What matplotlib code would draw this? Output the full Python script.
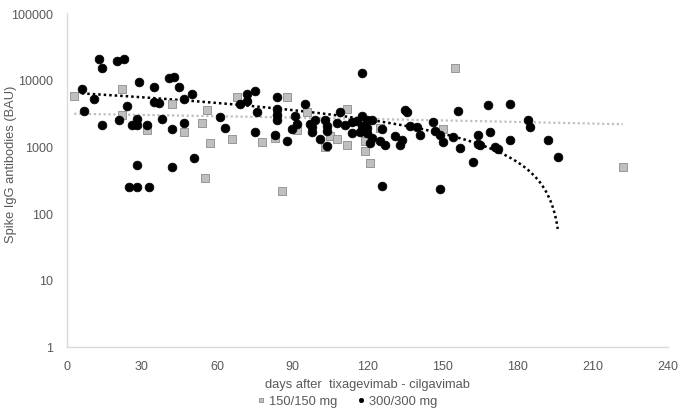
import numpy as np
from matplotlib import pyplot as plt

# 300/300 mg group (days, BAU)
days_300 = [6, 7, 11, 13, 14, 14, 20, 21, 23, 24, 25, 26, 28, 28, 28, 28, 29, 32, 33, 35,
            35, 37, 38, 41, 43, 42, 42, 45, 47, 47, 50, 51, 61, 63, 69, 72, 72, 75, 75, 76,
            83, 84, 84, 84, 84, 88, 90, 91, 92, 95, 97, 98, 98, 99, 101, 103, 104, 104, 104, 108,
            109, 111, 114, 114, 116, 117, 118, 118, 118, 120, 120, 120, 121, 122, 122, 125, 126, 126, 127, 131,
            133, 134, 135, 136, 137, 140, 141, 146, 147, 149, 150, 149, 154, 156, 157, 162, 164, 164, 165, 168,
            169, 171, 172, 177, 177, 184, 185, 192, 196]
igg_300 = [7200, 3360, 5120, 20800, 14800, 2130, 19200, 2530, 20800, 3990, 250, 2130, 2580, 2130, 525, 250, 9370, 2130, 250, 7900,
           4570, 4460, 2580, 10700, 10900, 1840, 485, 7900, 5120, 2210, 6150, 660, 2740, 1860, 4320, 6070, 4730, 6890, 1660, 3280,
           1480, 5610, 3640, 2930, 2470, 1200, 1840, 2830, 2180, 4370, 2180, 1940, 1660, 2450, 1300, 2450, 2010, 1700, 1020, 2210,
           3280, 2080, 2330, 1600, 2390, 1640, 2010, 12700, 2830, 1600, 2530, 1860, 1140, 1320, 2530, 1200, 1840, 253, 1050, 1430,
           1040, 1230, 3560, 3250, 2010, 1940, 1460, 2310, 1700, 1510, 1160, 231, 1380, 3440, 960, 590, 1460, 1100, 1050, 4230,
           1660, 980, 910, 4370, 1250, 2470, 1960, 1230, 700]

# 150/150 mg group
days_150 = [3, 22, 22, 32, 42, 47, 54, 55, 56, 57, 66, 68, 78, 83, 84, 86, 88, 92, 96, 103,
            105, 108, 112, 112, 119, 119, 121, 125, 150, 155, 222]
igg_150 = [5750, 7300, 2930, 1750, 4320, 1660, 2210, 337, 3560, 1110, 1280, 5610, 1160, 1320, 3250, 218, 5610, 1750, 3280, 980,
           1430, 1300, 3640, 1040, 1200, 860, 560, 1860, 1800, 15100, 485]

x_ticks = [0, 30, 60, 90, 120, 150, 180, 210, 240]
y_ticks = [1, 10, 100, 1000, 10000, 100000]

txt = '#595959'
plt.rcParams['font.family'] = ['Liberation Sans', 'DejaVu Sans']

fig = plt.figure(figsize=(6.85, 4.14), dpi=100)
ax = fig.add_axes([0.0974, 0.1606, 0.8778, 0.8054])

ax.scatter(days_150, igg_150, marker='s', s=30, color='#bfbfbf', edgecolors='#8c8c8c',
           linewidths=0.6, zorder=3, label='150/150 mg')
ax.scatter(days_300, igg_300, marker='o', s=40, color='black', edgecolors='black',
           linewidths=0.5, zorder=4, label='300/300 mg')

# linear trendlines (as Excel does), over each group's range
for d, v, col, lw in [(days_150, igg_150, '#bfbfbf', 1.6), (days_300, igg_300, 'black', 1.8)]:
    d = np.array(d, float)
    v = np.array(v, float)
    b, a = np.polyfit(d, v, 1)
    xs = np.linspace(d.min(), d.max(), 400)
    ys = a + b * xs
    keep = ys > 1
    ax.plot(xs[keep], ys[keep], linestyle=(0, (1, 1.2)), color=col, linewidth=lw, zorder=2)

ax.set_yscale('log')
ax.set_xlim(0, 240)
ax.set_ylim(1, 100000)
ax.set_xticks(x_ticks)
ax.set_yticks(y_ticks)
ax.set_yticklabels([str(t) for t in y_ticks])
ax.minorticks_off()
ax.tick_params(axis='both', length=0, labelsize=9, colors=txt)
ax.tick_params(axis='x', pad=10)
ax.tick_params(axis='y', pad=10)

for s in ['top', 'right']:
    ax.spines[s].set_visible(False)
for s in ['left', 'bottom']:
    ax.spines[s].set_color('#d9d9d9')
    ax.spines[s].set_linewidth(1)

ax.set_xlabel('days after  tixagevimab - cilgavimab', fontsize=9.3, color=txt, labelpad=4)
ax.set_ylabel('Spike IgG antibodies (BAU)', fontsize=9.3, color=txt)
ax.yaxis.set_label_coords(-0.082, 0.549)

leg = fig.legend(handles=ax.collections[:2], labels=['150/150 mg', '300/300 mg'],
                 loc='center', bbox_to_anchor=(0.505, 0.03), ncol=2, frameon=False,
                 fontsize=9.3, handletextpad=0.1, columnspacing=1.4, markerscale=0.5,
                 handlelength=1.0, labelcolor=txt)

fig.savefig('out.png', dpi=100)
